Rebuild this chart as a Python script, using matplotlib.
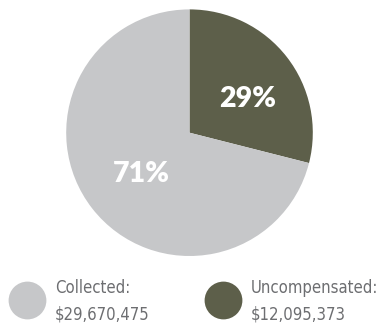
import math
import matplotlib.pyplot as plt

labels = ["Uncompensated", "Collected"]
amounts = [12095373, 29670475]
amount_text = ["$12,095,373", "$29,670,475"]
colors = ["#5d5f4a", "#c6c7c9"]

fig = plt.figure(figsize=(3.79, 3.26), dpi=100)
ax = fig.add_axes([0, 0, 1, 1])

cx, cy, rad = 189.5, 193.3, 123.3
wedges, _ = ax.pie(amounts, colors=colors, startangle=90, counterclock=False,
                   center=(cx, cy), radius=rad,
                   wedgeprops=dict(linewidth=0))

# percentage labels, placed near each wedge's mid angle
total = sum(amounts)
label_r = [0.555, 0.50]
label_shift = [-6, 1.5]
for w, v, r, sh in zip(wedges, amounts, label_r, label_shift):
    mid = math.radians((w.theta1 + w.theta2) / 2 + sh)
    x = cx + r * rad * math.cos(mid)
    y = cy + r * rad * math.sin(mid)
    ax.text(x, y, "%.0f%%" % (100 * v / total), ha="center", va="center_baseline",
            color="white", fontsize=20.5, fontweight=800, family="Lato")

# legend: circle + two-line caption under the pie
legend_x = [222.5, 26.7]
for lx, lab, amt, c in zip(legend_x, labels, amount_text, colors):
    ax.scatter([lx], [25.8], s=740, color=c, linewidths=0)
    ax.text(lx + 28.5, 33, lab + ":", ha="left", va="baseline", color="#6d6e71",
            fontsize=12, family="DejaVu Sans", fontstretch="condensed")
    ax.text(lx + 28.5, 6, amt, ha="left", va="baseline", color="#6d6e71",
            fontsize=12, family="DejaVu Sans", fontstretch="condensed")

ax.set_xlim(0, 379)
ax.set_ylim(0, 326)
ax.set_aspect("auto")
ax.axis("off")

fig.savefig("out.png", dpi=100)
